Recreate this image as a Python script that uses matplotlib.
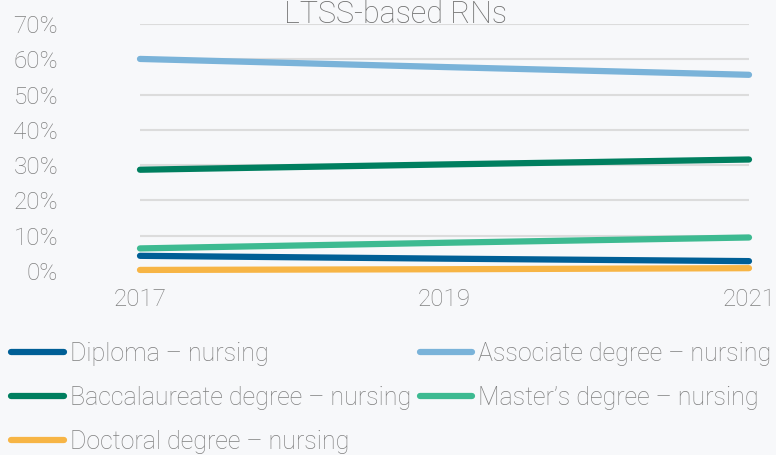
import matplotlib
matplotlib.use("Agg")
import matplotlib.pyplot as plt

years = [2017, 2019, 2021]
series_names = ["Diploma – nursing", "Associate degree – nursing",
                "Baccalaureate degree – nursing", "Master’s degree – nursing",
                "Doctoral degree – nursing"]
diploma = [0.043, 0.035, 0.028]
associate = [0.601, 0.578, 0.556]
baccalaureate = [0.287, 0.302, 0.316]
masters = [0.064, 0.080, 0.095]
doctoral = [0.003, 0.005, 0.008]
colors = ["#005f96", "#7ab3d9", "#007f5f", "#3dba91", "#f7b545"]
yticks = [0, 0.1, 0.2, 0.3, 0.4, 0.5, 0.6, 0.7]
ytick_labels = ["0%", "10%", "20%", "30%", "40%", "50%", "60%", "70%"]

plt.rcParams['font.family'] = ['Roboto', 'DejaVu Sans']
plt.rcParams['font.weight'] = 'light'
bg = "#f7f8fa"
txt = "#7f7f7f"

fig = plt.figure(figsize=(7.76, 4.55), dpi=100, facecolor=bg)
ax = fig.add_axes([140/776, 1-271/455, (749-140)/776, (271-24)/455], facecolor=bg)

data = [diploma, associate, baccalaureate, masters, doctoral]
handles = []
for name, vals, c in zip(series_names, data, colors):
    h, = ax.plot(years, vals, color=c, lw=4.5, solid_capstyle='round', clip_on=False, label=name, zorder=3)
    handles.append(h)

ax.set_xlim(2017, 2021)
ax.set_ylim(0, 0.7)
ax.set_yticks(yticks)
ax.set_yticklabels(ytick_labels)
ax.set_xticks(years)
ax.set_xticklabels([str(y) for y in years])
ax.grid(axis='y', color="#dcdcdc", lw=1.5, zorder=0)
for s in ax.spines.values():
    s.set_visible(False)
ax.tick_params(axis='y', length=0, pad=59, labelsize=17.5, labelcolor=txt)
ax.tick_params(axis='x', length=0, pad=12, labelsize=17.5, labelcolor=txt)
for lab in ax.get_yticklabels() + ax.get_xticklabels():
    lab.set_fontweight('light')

fig.text(396/776, 1-23/455, "LTSS-based RNs", ha='center', va='baseline', fontsize=22, color="#6f6f6f", fontweight='light')

order = [0, 2, 4, 1, 3]
leg = fig.legend([handles[i] for i in order], [series_names[i] for i in order],
                 ncol=2, loc='upper left', bbox_to_anchor=(11/776, 1-342/455),
                 frameon=False, fontsize=18, handlelength=2.1, handletextpad=0.25,
                 columnspacing=0.35, labelspacing=0.8, borderaxespad=0, borderpad=0)
for t in leg.get_texts():
    t.set_color(txt)
    t.set_fontweight('light')

fig.savefig("out.png", dpi=100, facecolor=bg)
